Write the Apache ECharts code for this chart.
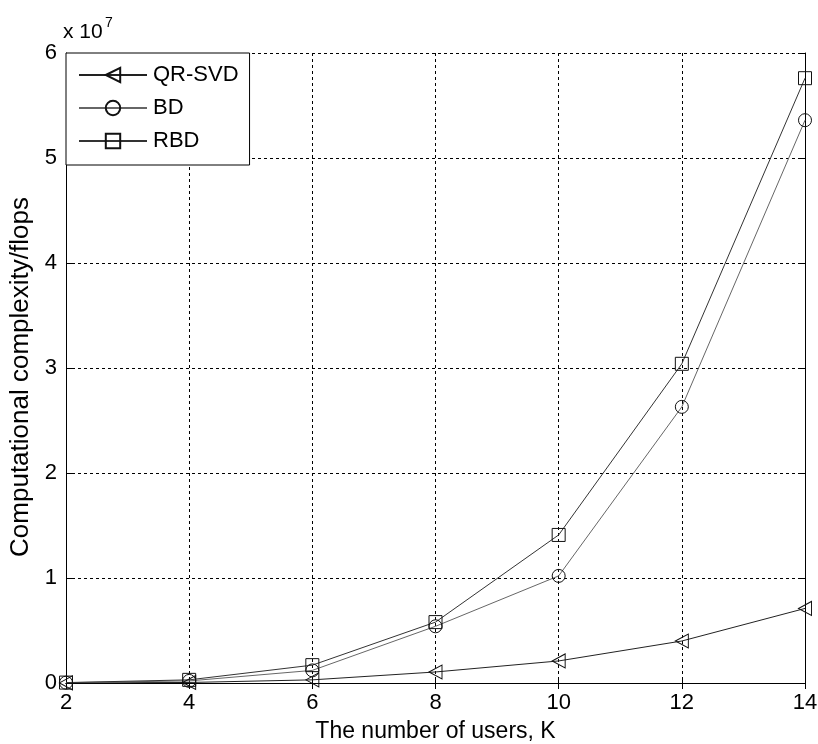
<!DOCTYPE html>
<html>
<head>
<meta charset="utf-8">
<script src="https://cdn.jsdelivr.net/npm/echarts@6/dist/echarts.min.js"></script>
<style>html,body{margin:0;padding:0;background:#fff;}#c{width:818px;height:744px;}</style>
</head>
<body>
<div id="c"></div>
<script>
const users = [2, 4, 6, 8, 10, 12, 14];
const qrsvd = [0.001, 0.005, 0.03, 0.105, 0.21, 0.40, 0.71];
const bd    = [0.003, 0.02, 0.12, 0.54, 1.02, 2.63, 5.36];
const rbd   = [0.004, 0.03, 0.17, 0.58, 1.41, 3.04, 5.76];
const seriesNames = ['QR-SVD', 'BD', 'RBD'];

const FONT = '"Liberation Sans", Arial, sans-serif';
const chart = echarts.init(document.getElementById('c'));
const pair = arr => users.map((u, i) => [u, arr[i]]);
const triLeft = 'path://M0,7 L13,0 L13,14 Z';

function mk(name, data, symbol, size, lineColor) {
  return {
    name, type: 'line', data: pair(data), symbol, symbolSize: size,
    showAllSymbol: true, animation: false,
    lineStyle: { color: lineColor, width: 1 },
    itemStyle: { color: 'rgba(0,0,0,0)', borderColor: '#111', borderWidth: 1 },
    emphasis: { disabled: true }
  };
}

const axisCommon = {
  axisLine: { show: true, lineStyle: { color: '#000', width: 1 } },
  axisTick: { show: true, inside: true, length: 6, lineStyle: { color: '#000' } },
};

chart.setOption({
  backgroundColor: '#fff',
  animation: false,
  grid: { left: 66, right: 13, top: 53, bottom: 61, show: false, containLabel: false, outerBoundsMode: 'none' },
  legend: {
    left: 66, top: 53, orient: 'vertical',
    data: seriesNames,
    backgroundColor: '#fff', borderColor: '#000', borderWidth: 1, borderRadius: 0,
    padding: [11, 11, 13, 12],
    itemWidth: 68, itemHeight: 18, itemGap: 11,
    textStyle: { fontFamily: FONT, fontSize: 22, color: '#000', padding: [0, 0, 0, 1] },
    selectedMode: false
  },
  xAxis: [
    Object.assign({
      type: 'value', min: 2, max: 14, interval: 2,
      name: 'The number of users, K', nameLocation: 'middle', nameGap: 37,
      nameTextStyle: { fontFamily: FONT, fontSize: 23, color: '#000' },
      axisLabel: { fontFamily: FONT, fontSize: 22, color: '#000', margin: 9 },
      splitLine: { show: true, lineStyle: { color: '#000', type: [3, 3], width: 1 } }
    }, axisCommon),
    Object.assign({
      type: 'value', min: 2, max: 14, interval: 2, position: 'top',
      axisLabel: { show: false }, splitLine: { show: false }
    }, axisCommon)
  ],
  yAxis: [
    Object.assign({
      type: 'value', min: 0, max: 6, interval: 1,
      name: 'Computational complexity/flops', nameLocation: 'middle', nameGap: 29,
      nameTextStyle: { fontFamily: FONT, fontSize: 26, color: '#000', padding: [0, 18, 0, 0] },
      axisLabel: { fontFamily: FONT, fontSize: 22, color: '#000', margin: 9 },
      splitLine: { show: true, lineStyle: { color: '#000', type: [3, 3], width: 1 } }
    }, axisCommon),
    Object.assign({
      type: 'value', min: 0, max: 6, interval: 1, position: 'right',
      axisLabel: { show: false }, splitLine: { show: false }
    }, axisCommon)
  ],
  graphic: [
    { type: 'text', left: 63, top: 22, style: { text: 'x 10', font: '21px ' + FONT, fill: '#000' } },
    { type: 'text', left: 105, top: 16, style: { text: '7', font: '14px ' + FONT, fill: '#000' } }
  ],
  series: [
    mk('QR-SVD', qrsvd, triLeft, [13, 14], '#222'),
    mk('BD', bd, 'circle', 13, '#666'),
    mk('RBD', rbd, 'rect', 13, '#333')
  ]
});
</script>
</body>
</html>
